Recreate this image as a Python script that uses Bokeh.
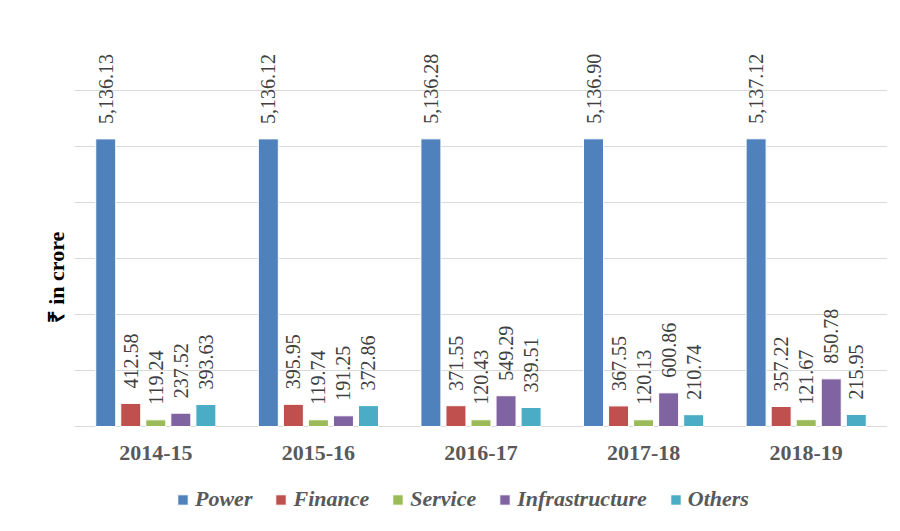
import math
from bokeh.plotting import figure
from bokeh.models import ColumnDataSource, Range1d, FactorRange, FixedTicker, Legend
from bokeh.transform import dodge
from bokeh.embed import file_html
from bokeh.resources import INLINE
from bokeh.core.properties import value

years = ["2014-15", "2015-16", "2016-17", "2017-18", "2018-19"]
power = [5136.13, 5136.12, 5136.28, 5136.90, 5137.12]
finance = [412.58, 395.95, 371.55, 367.55, 357.22]
service = [119.24, 119.74, 120.43, 120.13, 121.67]
infrastructure = [237.52, 191.25, 549.29, 600.86, 850.78]
others = [393.63, 372.86, 339.51, 210.74, 215.95]
grid_values = [0, 1000, 2000, 3000, 4000, 5000, 6000, 7000]

series_names = ["Power", "Finance", "Service", "Infrastructure", "Others"]
series_keys = ["power", "finance", "service", "infrastructure", "others"]
series_vals = [power, finance, service, infrastructure, others]
colors = ["#4f81bd", "#c0504d", "#9bbb59", "#8064a2", "#4bacc6"]

data = {"years": years, "zero": [0] * len(years)}
for k, vals in zip(series_keys, series_vals):
    data[k] = vals
    data[k + "_label"] = [f"{v:,.2f}" for v in vals]
source = ColumnDataSource(data=data)

# geometry: frame spans from top gridline (7000) down to figure bottom
H = 520
top_border = 34
px_per_unit = 56.0 / 1000.0
frame_h = H - top_border
y_start = 7000 - frame_h / px_per_unit

p = figure(x_range=FactorRange(*years), y_range=Range1d(y_start, 7000),
           width=890, height=H, output_backend="svg", toolbar_location=None,
           min_border_left=74, min_border_right=3, min_border_top=top_border, min_border_bottom=0)
p.outline_line_color = None
p.xgrid.grid_line_color = None
p.ygrid.ticker = FixedTicker(ticks=grid_values)
p.ygrid.grid_line_color = "#d9d9d9"
p.ygrid.grid_line_width = 1
p.xaxis.visible = False

# y axis: only its title, no ticks / labels / line
p.yaxis.ticker = FixedTicker(ticks=[])
p.yaxis.axis_line_color = None
p.yaxis.major_tick_line_color = None
p.yaxis.minor_tick_line_color = None
p.yaxis.major_tick_out = 0
p.yaxis.minor_tick_out = 0
p.yaxis.major_label_standoff = 0
p.yaxis.axis_label = "₹ in crore"
p.yaxis.axis_label_standoff = 6
p.yaxis.axis_label_text_font = "Liberation Serif"
p.yaxis.axis_label_text_font_style = "bold"
p.yaxis.axis_label_text_font_size = "22px"
p.yaxis.axis_label_text_color = "#000000"

offsets = [-0.308, -0.154, 0.0, 0.154, 0.308]
items = []
for name, k, off, c in zip(series_names, series_keys, offsets, colors):
    r = p.vbar(x=dodge("years", off, range=p.x_range), top=k, width=0.123, source=source,
               fill_color=c, line_color="white", line_width=1)
    items.append((name, [r]))
    p.text(x=dodge("years", off, range=p.x_range), y=k, text=k + "_label", source=source,
           angle=math.pi / 2, text_align="left", text_baseline="middle", y_offset=-15,
           text_font=value("Liberation Serif"), text_font_size="20px", text_color="#404040")

# category labels
p.text(x="years", y="zero", text="years", source=source, y_offset=26,
       text_align="center", text_baseline="middle",
       text_font=value("Liberation Serif"), text_font_style="bold",
       text_font_size="22px", text_color="#595959")

legend = Legend(items=items, orientation="horizontal", location=(102, 8),
                label_text_font="Liberation Serif", label_text_font_style="bold italic",
                label_text_font_size="22px", label_text_color="#595959",
                glyph_width=13, glyph_height=13, label_standoff=6, spacing=22,
                padding=0, margin=0, border_line_color=None, background_fill_alpha=0)
p.add_layout(legend)

open("out.html", "w").write(file_html(p, INLINE))
